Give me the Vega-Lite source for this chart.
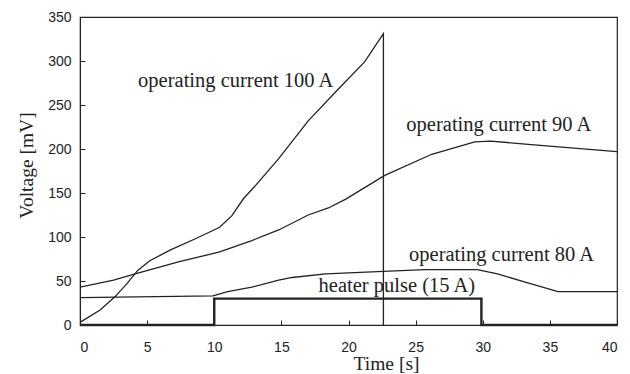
{
  "$schema": "https://vega.github.io/schema/vega-lite/v6.json",
  "width": 537,
  "height": 308,
  "autosize": "none",
  "padding": {"left": 80, "top": 17, "right": 13, "bottom": 49},
  "background": "white",
  "config": {
    "view": {"stroke": "#222", "strokeWidth": 1.2},
    "axis": {
      "domainColor": "#222", "tickColor": "#222", "grid": false,
      "labelFont": "Liberation Sans", "labelFontSize": 14, "labelColor": "#222",
      "titleFont": "Liberation Serif", "titleFontSize": 19.5, "titleFontWeight": "normal", "titleColor": "#222",
      "tickSize": -5
    }
  },
  "datasets": {
    "curves": [
      {"series": "100A", "i": 1, "t": 0, "v": 3},
      {"series": "100A", "i": 2, "t": 1.5, "v": 17},
      {"series": "100A", "i": 3, "t": 2.6, "v": 32},
      {"series": "100A", "i": 4, "t": 3.5, "v": 47},
      {"series": "100A", "i": 5, "t": 4.3, "v": 62},
      {"series": "100A", "i": 6, "t": 5.2, "v": 73},
      {"series": "100A", "i": 7, "t": 6.7, "v": 85},
      {"series": "100A", "i": 8, "t": 8.6, "v": 98},
      {"series": "100A", "i": 9, "t": 10.4, "v": 111},
      {"series": "100A", "i": 10, "t": 11.3, "v": 124},
      {"series": "100A", "i": 11, "t": 12.2, "v": 144},
      {"series": "100A", "i": 12, "t": 13.1, "v": 159},
      {"series": "100A", "i": 13, "t": 14.8, "v": 189},
      {"series": "100A", "i": 14, "t": 17, "v": 232},
      {"series": "100A", "i": 15, "t": 19.3, "v": 269},
      {"series": "100A", "i": 16, "t": 21.2, "v": 299},
      {"series": "100A", "i": 17, "t": 22.6, "v": 331},
      {"series": "100A", "i": 18, "t": 22.6, "v": 0},
      {"series": "90A", "i": 1, "t": 0, "v": 43},
      {"series": "90A", "i": 2, "t": 2.5, "v": 51},
      {"series": "90A", "i": 3, "t": 4.1, "v": 58},
      {"series": "90A", "i": 4, "t": 7.4, "v": 72},
      {"series": "90A", "i": 5, "t": 10.4, "v": 83},
      {"series": "90A", "i": 6, "t": 12.8, "v": 96},
      {"series": "90A", "i": 7, "t": 14.8, "v": 108},
      {"series": "90A", "i": 8, "t": 17, "v": 125},
      {"series": "90A", "i": 9, "t": 18.5, "v": 133},
      {"series": "90A", "i": 10, "t": 19.8, "v": 143},
      {"series": "90A", "i": 11, "t": 22.7, "v": 170},
      {"series": "90A", "i": 12, "t": 26.2, "v": 194},
      {"series": "90A", "i": 13, "t": 29.4, "v": 208},
      {"series": "90A", "i": 14, "t": 30.6, "v": 209},
      {"series": "90A", "i": 15, "t": 33.6, "v": 205},
      {"series": "90A", "i": 16, "t": 40, "v": 197},
      {"series": "80A", "i": 1, "t": 0, "v": 31},
      {"series": "80A", "i": 2, "t": 9.9, "v": 33},
      {"series": "80A", "i": 3, "t": 11, "v": 38},
      {"series": "80A", "i": 4, "t": 12.8, "v": 43},
      {"series": "80A", "i": 5, "t": 14.8, "v": 51},
      {"series": "80A", "i": 6, "t": 15.8, "v": 54},
      {"series": "80A", "i": 7, "t": 18.3, "v": 58},
      {"series": "80A", "i": 8, "t": 22.6, "v": 61},
      {"series": "80A", "i": 9, "t": 25.7, "v": 63},
      {"series": "80A", "i": 10, "t": 29.6, "v": 63},
      {"series": "80A", "i": 11, "t": 31.1, "v": 58},
      {"series": "80A", "i": 12, "t": 33.1, "v": 49},
      {"series": "80A", "i": 13, "t": 35.6, "v": 38},
      {"series": "80A", "i": 14, "t": 40, "v": 38},
      {"series": "heater", "i": 1, "t": 0, "v": 0},
      {"series": "heater", "i": 2, "t": 10, "v": 0},
      {"series": "heater", "i": 3, "t": 10, "v": 30},
      {"series": "heater", "i": 4, "t": 29.9, "v": 30},
      {"series": "heater", "i": 5, "t": 29.9, "v": 0},
      {"series": "heater", "i": 6, "t": 40, "v": 0}
    ],
    "labels": [
      {"t": 11.6, "v": 277, "text": "operating current 100 A"},
      {"t": 31.2, "v": 227, "text": "operating current 90 A"},
      {"t": 31.4, "v": 80, "text": "operating current 80 A"},
      {"t": 23.6, "v": 44, "text": "heater pulse (15 A)"}
    ]
  },
  "layer": [
    {
      "data": {"name": "curves"},
      "transform": [{"filter": "datum.series != 'heater'"}],
      "mark": {"type": "line", "color": "#222", "strokeWidth": 1.3, "clip": true},
      "encoding": {
        "x": {"field": "t", "type": "quantitative", "scale": {"domain": [0, 40], "nice": false},
          "axis": {"values": [0, 5, 10, 15, 20, 25, 30, 35, 40], "title": "Time [s]", "labelPadding": 20, "titlePadding": 0, "titleX": 306}},
        "y": {"field": "v", "type": "quantitative", "scale": {"domain": [0, 350], "nice": false},
          "axis": {"values": [0, 50, 100, 150, 200, 250, 300, 350], "title": "Voltage [mV]", "labelPadding": 14, "titlePadding": 11, "titleY": 148}},
        "detail": {"field": "series"},
        "order": {"field": "i", "type": "quantitative"}
      }
    },
    {
      "data": {"name": "curves"},
      "transform": [{"filter": "datum.series == 'heater'"}],
      "mark": {"type": "line", "color": "#222", "strokeWidth": 2.4},
      "encoding": {
        "x": {"field": "t", "type": "quantitative"},
        "y": {"field": "v", "type": "quantitative"},
        "order": {"field": "i", "type": "quantitative"}
      }
    },
    {
      "data": {"name": "labels"},
      "mark": {"type": "text", "font": "Liberation Serif", "fontSize": 20.5, "color": "#222", "align": "center", "baseline": "middle"},
      "encoding": {
        "x": {"field": "t", "type": "quantitative"},
        "y": {"field": "v", "type": "quantitative"},
        "text": {"field": "text"}
      }
    }
  ]
}
